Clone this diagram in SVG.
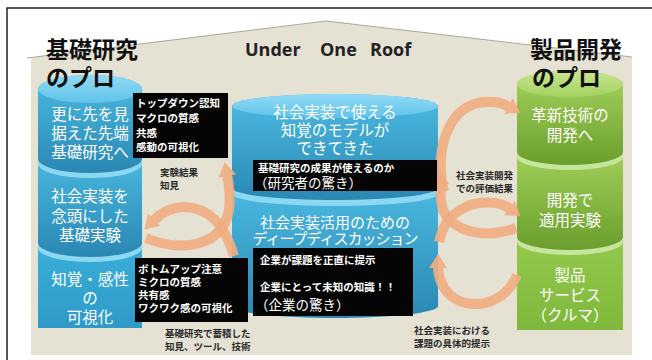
<svg xmlns="http://www.w3.org/2000/svg" width="652" height="360" viewBox="0 0 652 360">
<defs>
  <linearGradient id="gBlue" x1="0" y1="0" x2="0" y2="1">
    <stop offset="0" stop-color="#4cbbe3"/><stop offset="1" stop-color="#2a88b3"/>
  </linearGradient>
  <linearGradient id="gBlueTop" x1="0" y1="0" x2="0" y2="1">
    <stop offset="0" stop-color="#92daf4"/><stop offset="1" stop-color="#5fc3ea"/>
  </linearGradient>
  <linearGradient id="gBlueFlat" x1="0" y1="0" x2="0" y2="1">
    <stop offset="0" stop-color="#3cb0dc"/><stop offset="1" stop-color="#2f9ac8"/>
  </linearGradient>
  <linearGradient id="gGreen" x1="0" y1="0" x2="0" y2="1">
    <stop offset="0" stop-color="#a6d45e"/><stop offset="1" stop-color="#6a9e2c"/>
  </linearGradient>
  <linearGradient id="gGreenTop" x1="0" y1="0" x2="0" y2="1">
    <stop offset="0" stop-color="#c8e58f"/><stop offset="1" stop-color="#a5d163"/>
  </linearGradient>
  <linearGradient id="gGreenFlat" x1="0" y1="0" x2="0" y2="1">
    <stop offset="0" stop-color="#96cb4d"/><stop offset="1" stop-color="#7fb83c"/>
  </linearGradient>
  <marker id="ah" markerUnits="userSpaceOnUse" markerWidth="20" markerHeight="20" refX="2" refY="9" orient="auto">
    <path d="M0,0 L14,9 L0,18 Z" fill="#f2ad82"/>
  </marker>
</defs>
<style>
  .cy{font-family:"Noto Sans CJK JP",sans-serif;font-size:15.5px;fill:#ffffff;text-anchor:middle}
  .cc{font-size:15px}
  .bx{fill:#050505}
  .bt{font-family:"Noto Sans CJK JP",sans-serif;font-size:10.5px;font-weight:bold;fill:#ffffff}
  .bb{font-family:"Noto Sans CJK JP",sans-serif;font-size:13.5px;fill:#ffffff}
  .lb{font-family:"Noto Sans CJK JP",sans-serif;font-size:9.5px;font-weight:bold;fill:#2a2a2a}
  .tt{font-family:"Noto Sans CJK JP",sans-serif;font-size:23px;font-weight:bold;fill:#111111}
  .en{font-family:"Open Sans","Liberation Sans",sans-serif;font-size:18px;font-weight:bold;fill:#222222}
  .ar{fill:none;stroke:#f2ad82;stroke-width:10;opacity:0.9;marker-end:url(#ah)}
  .hlb{fill:#8ad8f2}
  .hlg{fill:#c6e59c}
</style>

<rect x="0" y="0" width="652" height="360" fill="#ffffff"/>
<path d="M7,360 V8 H652" fill="none" stroke="#222222" stroke-width="1.5"/>
<g id="house">
  <path d="M27,58 L326,21 L632,57 L632,355 L31,355 L31,58 Z" fill="#e5e1d3"/>
  <path d="M27,58 L326,21 L632,57" fill="none" stroke="#aaa698" stroke-width="1"/>
</g>

<g id="left-cylinder">
  <g id="left-seg3">
    <path d="M38,248 A52,14 0 0 1 142,248 V328 H38 Z" fill="url(#gBlueFlat)"/>
    <ellipse cx="90" cy="248" rx="52" ry="14" class="hlb"/>
  </g>
  <g id="left-seg2">
    <path d="M38,164 A52,14 0 0 1 142,164 V243 A52,14 0 0 1 38,243 Z" fill="url(#gBlue)"/>
    <ellipse cx="90" cy="164" rx="52" ry="14" class="hlb"/>
  </g>
  <g id="left-seg1">
    <path d="M38,89 A52,14 0 0 1 142,89 V159 A52,14 0 0 1 38,159 Z" fill="url(#gBlue)"/>
    <ellipse cx="90" cy="89" rx="52" ry="14" fill="url(#gBlueTop)"/>
  </g>
  <text class="cy" x="90" y="120">更に先を見</text>
  <text class="cy" x="90" y="139">据えた先端</text>
  <text class="cy" x="90" y="158">基礎研究へ</text>
  <text class="cy" x="90" y="202">社会実装を</text>
  <text class="cy" x="90" y="222">念頭にした</text>
  <text class="cy" x="90" y="241">基礎実験</text>
  <text class="cy" x="90" y="285">知覚・感性</text>
  <text class="cy" x="90" y="304">の</text>
  <text class="cy" x="90" y="323">可視化</text>
</g>

<g id="center-cylinder">
  <g id="center-seg2">
    <path d="M232,194 A103,12 0 0 1 438,194 V306 A103,12 0 0 1 232,306 Z" fill="url(#gBlue)"/>
    <ellipse cx="335" cy="194" rx="103" ry="12" class="hlb"/>
  </g>
  <g id="center-seg1">
    <path d="M232,106 A103,12 0 0 1 438,106 V188 A103,12 0 0 1 232,188 Z" fill="url(#gBlue)"/>
    <ellipse cx="335" cy="106" rx="103" ry="12" fill="url(#gBlueTop)"/>
  </g>
  <text class="cy" x="335" y="118">社会実装で使える</text>
  <text class="cy" x="335" y="136">知覚のモデルが</text>
  <text class="cy" x="335" y="154">できてきた</text>
  <text class="cy cc" x="335" y="228">社会実装活用のための</text>
  <text class="cy cc" x="335" y="244" style="letter-spacing:-1px">ディープディスカッション</text>
</g>

<g id="right-cylinder">
  <g id="right-seg3">
    <path d="M517,242 A53,13 0 0 1 623,242 V330 H517 Z" fill="url(#gGreenFlat)"/>
    <ellipse cx="570" cy="242" rx="53" ry="13" class="hlg"/>
  </g>
  <g id="right-seg2">
    <path d="M517,157 A53,13 0 0 1 623,157 V237 A53,13 0 0 1 517,237 Z" fill="url(#gGreen)"/>
    <ellipse cx="570" cy="157" rx="53" ry="13" class="hlg"/>
  </g>
  <g id="right-seg1">
    <path d="M517,84 A53,13 0 0 1 623,84 V152 A53,13 0 0 1 517,152 Z" fill="url(#gGreen)"/>
    <ellipse cx="570" cy="84" rx="53" ry="13" fill="url(#gGreenTop)"/>
  </g>
  <text class="cy" x="570" y="121">革新技術の</text>
  <text class="cy" x="570" y="141">開発へ</text>
  <text class="cy" x="570" y="206">開発で</text>
  <text class="cy" x="570" y="226">適用実験</text>
  <text class="cy" x="570" y="281">製品</text>
  <text class="cy" x="570" y="301">サービス</text>
  <text class="cy" x="570" y="321">（クルマ）</text>
</g>

<g id="connectors">
  <path class="ar" d="M146,238 C180,252 222,248 229,210 C231,195 229,184 227,174"/>
  <path class="ar" d="M234,256 C225,225 210,208 185,207 C170,207 160,214 153,221"/>
  <path class="ar" d="M444,192 C434,150 448,110 478,103 C494,100 503,103 510,107"/>
  <path class="ar" d="M516,228 C490,238 455,235 443,210 C440,200 440,192 440,182"/>
  <path class="ar" d="M439,242 C445,212 470,200 495,203 C502,204 507,206 511,209"/>
  <path class="ar" d="M517,275 C505,305 470,312 450,295 C440,285 438,275 438,266"/>
</g>

<g id="box-topdown">
  <rect class="bx" x="133" y="93" width="95" height="65"/>
  <text class="bt" x="136" y="107">トップダウン認知</text>
  <text class="bt" x="136" y="122">マクロの質感</text>
  <text class="bt" x="136" y="137">共感</text>
  <text class="bt" x="136" y="151">感動の可視化</text>
</g>
<g id="box-bottomup">
  <rect class="bx" x="135" y="258" width="113" height="64"/>
  <text class="bt" x="138" y="273">ボトムアップ注意</text>
  <text class="bt" x="138" y="286">ミクロの質感</text>
  <text class="bt" x="138" y="299">共有感</text>
  <text class="bt" x="138" y="312">ワクワク感の可視化</text>
</g>
<g id="box-researcher">
  <rect class="bx" x="253" y="160" width="184" height="31"/>
  <text class="bt" x="258" y="172">基礎研究の成果が使えるのか</text>
  <text class="bb" x="254" y="188">（研究者の驚き）</text>
</g>
<g id="box-company">
  <rect class="bx" x="253" y="248" width="160" height="68"/>
  <text class="bt" x="260" y="264">企業が課題を正直に提示</text>
  <text class="bt" x="260" y="291">企業にとって未知の知識！！</text>
  <text class="bb" x="255" y="310">（企業の驚き）</text>
</g>

<g id="labels">
  <text class="lb" x="160" y="176">実験結果</text>
  <text class="lb" x="160" y="189">知見</text>
  <text class="lb" x="456" y="179">社会実装開発</text>
  <text class="lb" x="456" y="192">での評価結果</text>
  <text class="lb" x="165" y="337">基礎研究で蓄積した</text>
  <text class="lb" x="165" y="350">知見、ツール、技術</text>
  <text class="lb" x="414" y="334">社会実装における</text>
  <text class="lb" x="414" y="347">課題の具体的提示</text>
</g>

<g id="titles">
  <text class="tt" x="46" y="58">基礎研究</text>
  <text class="tt" x="46" y="86">のプロ</text>
  <text class="tt" x="530" y="58">製品開発</text>
  <text class="tt" x="532" y="86">のプロ</text>
  <text class="en" y="56"><tspan x="245">Under</tspan><tspan x="320">One</tspan><tspan x="370">Roof</tspan></text>
</g>
</svg>
